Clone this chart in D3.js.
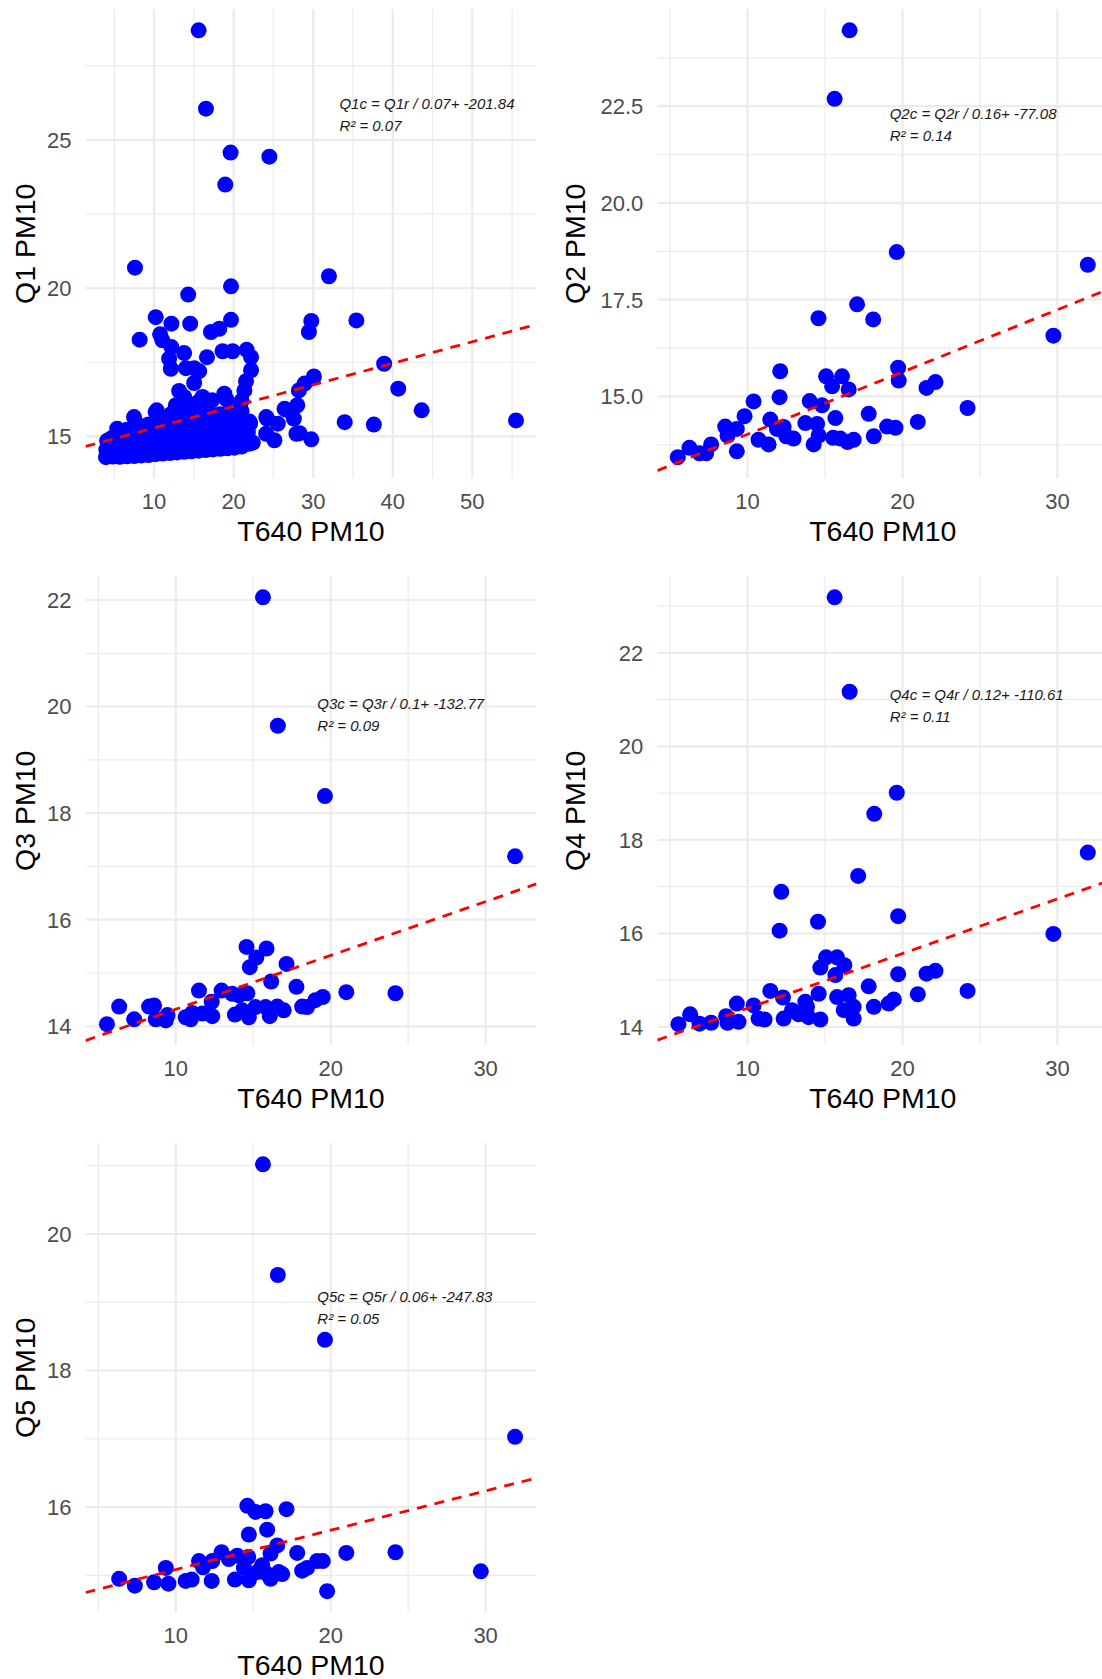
<!DOCTYPE html>
<html>
<head>
<meta charset="utf-8">
<script src="https://cdn.jsdelivr.net/npm/d3@7"></script>
<style>
  body { margin: 0; background: #fff; }
  text { font-family: "Liberation Sans", Arial, sans-serif; }
</style>
</head>
<body>
<svg id="chart"></svg>
<script>
// ---- data ----
// Q1 (all rows, wider T640 range)
var q1x = [15.6, 16.52, 19.62, 24.49, 18.95, 7.60, 31.98, 19.67, 14.29, 10.21, 35.43, 19.67, 29.76, 12.18, 14.54,
  18.20, 17.15, 29.46, 10.76, 8.19, 11.05, 12.18, 19.87, 18.61, 21.64, 13.78, 16.65, 22.19, 11.89, 38.92,
  14.00, 15.04, 12.11, 22.19, 15.67, 30.09, 21.56, 15.04, 28.92, 40.69, 21.35, 28.20, 13.15, 18.83, 16.09,
  13.78, 12.74, 28.00, 26.61, 43.63, 10.34, 7.48, 27.57, 24.21, 55.49, 33.96, 25.55, 22.07, 37.62, 5.37,
  28.29, 24.09, 29.76, 25.13, 22.40, 21.0, 20.8, 10.2, 26.4, 27.9, 24.1,
  // dense cluster
  3.96, 4.0, 4.1, 4.8, 4.9, 4.7, 5.7, 5.6, 5.8, 5.7, 6.6, 6.5, 6.7, 6.6, 7.5, 7.4, 7.6, 7.5,
  8.4, 8.5, 8.3, 8.4, 9.3, 9.2, 9.4, 9.3, 10.2, 10.1, 10.3, 10.2, 11.1, 11.0, 11.2, 11.1,
  12.0, 12.1, 11.9, 12.0, 12.1, 12.9, 13.0, 12.8, 12.9, 13.0, 13.8, 13.7, 13.9, 13.8, 13.7,
  14.7, 14.8, 14.6, 14.7, 14.8, 15.6, 15.5, 15.7, 15.6, 15.5, 16.5, 16.6, 16.4, 16.5, 16.6,
  17.4, 17.3, 17.5, 17.4, 17.3, 18.3, 18.4, 18.2, 18.3, 19.2, 19.1, 19.3, 19.2, 19.1,
  20.1, 20.0, 20.2, 20.1, 21.0, 21.1, 20.9, 21.0, 21.9, 21.8, 22.0];
var q1y = [28.69, 26.05, 24.57, 24.43, 23.49, 20.69, 20.40, 20.06, 19.78, 19.02, 18.91, 18.93, 18.89, 18.80, 18.80,
  18.63, 18.52, 18.52, 18.44, 18.26, 18.24, 18.01, 17.87, 17.87, 17.92, 17.81, 17.67, 17.67, 17.62, 17.45,
  17.30, 17.30, 17.28, 17.23, 17.20, 17.02, 16.86, 16.80, 16.78, 16.61, 16.55, 16.55, 16.53, 16.44, 16.33,
  16.33, 16.05, 16.05, 15.90, 15.88, 15.88, 15.65, 15.60, 15.60, 15.54, 15.48, 15.43, 15.43, 15.40, 15.26,
  15.11, 15.09, 14.90, 14.87, 14.79, 16.20, 16.00, 15.82, 15.93, 15.09, 15.65,
  14.30, 14.55, 14.85, 14.32, 14.62, 14.95, 14.31, 14.60, 14.92, 15.15, 14.33, 14.64, 14.95, 15.22,
  14.34, 14.66, 14.98, 15.30, 14.36, 14.68, 15.02, 15.35, 14.37, 14.70, 15.05, 15.40,
  14.40, 14.72, 15.08, 15.45, 14.42, 14.75, 15.12, 15.55, 14.44, 14.78, 15.15, 15.50, 15.75,
  14.46, 14.80, 15.18, 15.55, 15.90, 14.48, 14.82, 15.20, 15.60, 15.98, 14.50, 14.85, 15.22, 15.62, 16.05,
  14.52, 14.88, 15.25, 15.65, 16.15, 14.54, 14.90, 15.28, 15.70, 16.20, 14.56, 14.92, 15.30, 15.72, 16.22,
  14.58, 14.95, 15.32, 15.75, 14.60, 14.98, 15.35, 15.78, 16.25, 14.62, 15.00, 15.40, 15.80,
  14.66, 15.05, 15.45, 15.85, 14.75, 15.15, 15.50];

var q2x = [5.50, 6.25, 6.90, 7.33, 7.65, 8.56, 8.71, 9.31, 9.31, 9.81, 10.39, 10.71, 11.36, 11.47, 12.11, 12.07,
  11.90, 12.33, 12.50, 12.97, 13.73, 14.01, 14.27, 14.49, 14.81, 14.59, 15.07, 15.46, 15.67, 15.52, 16.10,
  16.53, 15.99, 16.46, 16.85, 17.82, 18.15, 19.01, 19.55, 19.72, 19.76, 20.99, 21.55, 22.13,
  16.59, 15.62, 19.63, 31.96, 17.07, 14.58, 18.11, 29.74, 24.20];
var q2y = [13.43, 13.67, 13.53, 13.53, 13.76, 14.22, 13.99, 14.16, 13.58, 14.49, 14.87, 13.88, 13.76, 14.40, 15.65, 14.98,
  14.16, 14.21, 13.97, 13.91, 14.31, 14.88, 13.76, 14.29, 14.77, 13.99, 15.52, 15.26, 14.44, 13.93, 15.52,
  15.18, 13.91, 13.82, 13.88, 14.55, 13.97, 14.22, 14.19, 15.74, 15.41, 14.34, 15.22, 15.37,
  24.46, 22.69, 18.73, 18.40, 17.38, 17.02, 16.99, 16.57, 14.70];

var q3x = [5.56, 6.35, 7.32, 8.28, 8.60, 8.71, 9.36, 9.47, 10.64, 10.97, 11.07, 11.50, 11.72, 12.32, 12.36, 12.96,
  13.65, 13.82, 14.08, 14.29, 14.62, 14.57, 14.78, 15.20, 15.86, 14.72, 15.15, 15.80, 16.07, 16.16, 16.55,
  16.97, 17.15, 17.79, 18.16, 18.48, 19.01, 19.49, 21.01, 15.63, 16.59, 19.63, 31.90, 24.18];
var q3y = [14.04, 14.37, 14.13, 14.37, 14.39, 14.13, 14.11, 14.21, 14.17, 14.13, 14.25, 14.67, 14.24, 14.46, 14.19, 14.67,
  14.61, 14.22, 14.58, 14.30, 14.62, 15.49, 15.11, 15.29, 15.46, 14.17, 14.36, 14.36, 14.19, 14.84, 14.37,
  14.30, 15.17, 14.74, 14.37, 14.36, 14.49, 14.55, 14.64, 22.05, 19.64, 18.32, 17.19, 14.62];

var q4x = [5.54, 6.30, 6.90, 7.65, 8.62, 8.71, 9.31, 9.42, 10.39, 10.71, 11.10, 11.47, 12.07, 12.18, 12.29, 12.33,
  12.87, 13.30, 13.73, 13.94, 13.84, 14.55, 14.59, 14.70, 14.70, 15.07, 15.67, 15.78, 16.25, 15.78, 16.53,
  16.85, 16.85, 16.21, 17.14, 17.82, 18.15, 19.11, 19.44, 19.72, 19.72, 20.99, 21.55, 22.13,
  15.62, 16.59, 19.63, 18.18, 31.96, 29.74, 24.20];
var q4y = [14.06, 14.27, 14.07, 14.09, 14.23, 14.09, 14.50, 14.11, 14.46, 14.18, 14.16, 14.77, 16.06, 16.89, 14.63, 14.18,
  14.36, 14.27, 14.54, 14.21, 14.43, 16.25, 14.71, 15.27, 14.16, 15.49, 15.11, 15.49, 15.32, 14.64, 14.68,
  14.43, 14.18, 14.36, 17.23, 14.87, 14.43, 14.50, 14.59, 16.37, 15.13, 14.70, 15.14, 15.20,
  23.19, 21.17, 19.01, 18.56, 17.73, 15.99, 14.77];

var q5x = [6.35, 7.36, 8.60, 9.36, 9.53, 10.64, 11.03, 11.50, 11.76, 12.36, 12.32, 12.96, 13.43, 13.82, 13.97, 14.62,
  15.15, 15.80, 17.15, 14.72, 15.90, 14.68, 14.40, 14.72, 15.26, 15.58, 16.12, 16.55, 16.12, 16.65, 16.87,
  17.84, 18.16, 18.48, 19.12, 19.49, 19.77, 21.01, 15.90, 15.63, 16.59, 19.63, 31.90, 24.18, 29.69];
var q5y = [14.95, 14.85, 14.90, 15.11, 14.88, 14.92, 14.94, 15.21, 15.12, 15.21, 14.92, 15.34, 15.24, 14.94, 15.29, 16.02,
  15.93, 15.94, 15.97, 15.60, 15.67, 15.27, 15.11, 14.93, 15.05, 15.15, 15.32, 15.44, 14.95, 15.05, 15.02,
  15.33, 15.07, 15.11, 15.21, 15.21, 14.77, 15.33, 15.02, 21.02, 19.40, 18.45, 17.03, 15.34, 15.06];

// T640 range shared by Q2..Q5 (rows with missing Q values still train the x scale)
var t640Range = [5.5, 31.96];

var fitSlope = [0.0726, 0.161, 0.101, 0.117, 0.0576];
var fitIntercept = [14.56, 12.41, 13.31, 13.23, 14.51];

var eqLabels = ["Q1c = Q1r / 0.07+ -201.84", "Q2c = Q2r / 0.16+ -77.08", "Q3c = Q3r / 0.1+ -132.77",
  "Q4c = Q4r / 0.12+ -110.61", "Q5c = Q5r / 0.06+ -247.83"];
var r2Labels = ["R² = 0.07", "R² = 0.14", "R² = 0.09", "R² = 0.11", "R² = 0.05"];
var yTitles = ["Q1 PM10", "Q2 PM10", "Q3 PM10", "Q4 PM10", "Q5 PM10"];

var xTicksWide = [10, 20, 30, 40, 50], xMinorWide = [5, 15, 25, 35, 45, 55];
var xTicks = [10, 20, 30], xMinor = [5, 15, 25, 35];
var yTicksList = [[15, 20, 25], [15, 17.5, 20, 22.5], [14, 16, 18, 20, 22], [14, 16, 18, 20, 22], [16, 18, 20]];
var yMinorList = [[12.5, 17.5, 22.5, 27.5], [13.75, 16.25, 18.75, 21.25, 23.75], [13, 15, 17, 19, 21, 23],
  [13, 15, 17, 19, 21, 23], [15, 17, 19, 21]];

// ---- layout ----
var W = 1102, H = 1679;
var colLeft = [85.5, 657.3], plotW = 451;
var rowTop = [9, 576, 1143], plotH = 469.5;
var yTitleX = [24.5, 575];

var svg = d3.select("#chart").attr("width", W).attr("height", H);

var panels = [
  { x: q1x, y: q1y, col: 0, row: 0, xt: xTicksWide, xm: xMinorWide, wide: true },
  { x: q2x, y: q2y, col: 1, row: 0, xt: xTicks, xm: xMinor },
  { x: q3x, y: q3y, col: 0, row: 1, xt: xTicks, xm: xMinor },
  { x: q4x, y: q4y, col: 1, row: 1, xt: xTicks, xm: xMinor },
  { x: q5x, y: q5y, col: 0, row: 2, xt: xTicks, xm: xMinor }
];

function expand(ext) {
  var pad = (ext[1] - ext[0]) * 0.05;
  return [ext[0] - pad, ext[1] + pad];
}

panels.forEach(function (p, i) {
  var left = colLeft[p.col], top = rowTop[p.row];
  var xDom = expand(p.wide ? d3.extent(p.x) : t640Range);
  var yDom = expand(d3.extent(p.y));

  var xScale = d3.scaleLinear().domain(xDom).range([left, left + plotW]);
  var yScale = d3.scaleLinear().domain(yDom).range([top + plotH, top]);

  var clipId = "clip" + i;
  svg.append("clipPath").attr("id", clipId)
    .append("rect").attr("x", left).attr("y", top).attr("width", plotW).attr("height", plotH);

  var g = svg.append("g").attr("clip-path", "url(#" + clipId + ")");

  // minor grid
  g.selectAll(".xm").data(p.xm).enter().append("line")
    .attr("x1", d => xScale(d)).attr("x2", d => xScale(d))
    .attr("y1", top).attr("y2", top + plotH)
    .attr("stroke", "#EBEBEB").attr("stroke-width", 1.2);
  g.selectAll(".ym").data(yMinorList[i]).enter().append("line")
    .attr("y1", d => yScale(d)).attr("y2", d => yScale(d))
    .attr("x1", left).attr("x2", left + plotW)
    .attr("stroke", "#EBEBEB").attr("stroke-width", 1.2);
  // major grid
  g.selectAll(".xg").data(p.xt).enter().append("line")
    .attr("x1", d => xScale(d)).attr("x2", d => xScale(d))
    .attr("y1", top).attr("y2", top + plotH)
    .attr("stroke", "#EBEBEB").attr("stroke-width", 2.2);
  g.selectAll(".yg").data(yTicksList[i]).enter().append("line")
    .attr("y1", d => yScale(d)).attr("y2", d => yScale(d))
    .attr("x1", left).attr("x2", left + plotW)
    .attr("stroke", "#EBEBEB").attr("stroke-width", 2.2);

  // points
  var pts = p.x.map(function (d, k) { return [d, p.y[k]]; });
  g.selectAll("circle").data(pts).enter().append("circle")
    .attr("cx", d => xScale(d[0])).attr("cy", d => yScale(d[1]))
    .attr("r", 8).attr("fill", "#0000FF");

  // fit line
  g.append("line")
    .attr("x1", xScale(xDom[0])).attr("y1", yScale(fitIntercept[i] + fitSlope[i] * xDom[0]))
    .attr("x2", xScale(xDom[1])).attr("y2", yScale(fitIntercept[i] + fitSlope[i] * xDom[1]))
    .attr("stroke", "#FF0000").attr("stroke-width", 2.8).attr("stroke-dasharray", "10,8");

  // annotation at 60% of max x, 90% of max y
  var ax = xScale(0.6 * d3.max(p.x)), ay = yScale(0.9 * d3.max(p.y));
  var ann = svg.append("g").attr("font-style", "italic").attr("font-size", 15).attr("fill", "#1A1A1A");
  ann.append("text").attr("x", ax).attr("y", ay - 6).text(eqLabels[i]);
  ann.append("text").attr("x", ax).attr("y", ay + 16).text(r2Labels[i]);

  // tick labels
  var yFmt = i === 1 ? d3.format(".1f") : d3.format("d");
  svg.append("g").selectAll("text").data(p.xt).enter().append("text")
    .attr("x", d => xScale(d)).attr("y", top + plotH + 30.7)
    .attr("text-anchor", "middle").attr("font-size", 22).attr("fill", "#4D4D4D")
    .text(d => d);
  svg.append("g").selectAll("text").data(yTicksList[i]).enter().append("text")
    .attr("x", left - 14).attr("y", d => yScale(d)).attr("dy", "0.36em")
    .attr("text-anchor", "end").attr("font-size", 22).attr("fill", "#4D4D4D")
    .text(d => yFmt(d));

  // axis titles
  svg.append("text")
    .attr("x", left + plotW / 2).attr("y", top + plotH + 62)
    .attr("text-anchor", "middle").attr("font-size", 28.5).attr("fill", "#000")
    .text("T640 PM10");
  svg.append("text")
    .attr("transform", "translate(" + yTitleX[p.col] + "," + (top + plotH / 2) + ") rotate(-90)")
    .attr("dy", "0.36em").attr("text-anchor", "middle").attr("font-size", 28.5).attr("fill", "#000")
    .text(yTitles[i]);
});
</script>
</body>
</html>
